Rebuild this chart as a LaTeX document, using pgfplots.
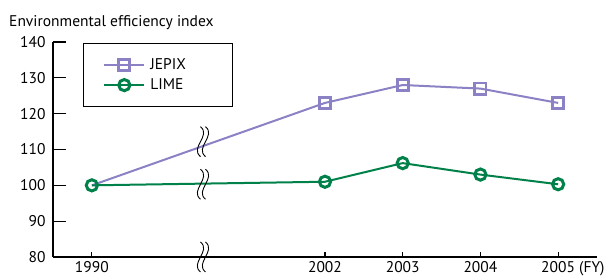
\documentclass[border=0pt]{standalone}
\usepackage{fontspec}
\setmainfont{PT Sans}
\usepackage{pgfplots}
\pgfplotsset{compat=1.18}
\definecolor{jepix}{HTML}{8A82C4}
\definecolor{lime}{HTML}{00814A}
\begin{document}
\begin{tikzpicture}[font=\fontsize{15.5}{18}\selectfont]
\begin{axis}[
  scale only axis, width=544pt, height=215pt,
  xmin=-0.5, xmax=6.5, ymin=80, ymax=140,
  axis lines*=left,
  axis line style={line width=1.3pt, black},
  ytick={80,90,...,140},
  xtick={0,3,4,5,6},
  xticklabels={1990,2002,2003,2004,{2005\rlap{ (FY)}}},
  tick align=inside,
  major tick length=13pt,
  xtick style={/pgfplots/major tick length=5pt},
  tick style={line width=1.2pt, black},
  yticklabel style={xshift=-4pt},
  xticklabel style={yshift=-1pt},
  /pgf/number format/assume math mode=true,
  legend style={at={(rel axis cs:0.055,0.995)}, anchor=north west,
    draw=black, line width=0.8pt, inner xsep=20pt, inner ysep=13pt,
    row sep=4pt, font=\fontsize{15.5}{18}\selectfont,
    /tikz/every odd column/.append style={column sep=3pt}},
  legend cell align=left,
  legend image code/.code={\draw[mark repeat=2,mark phase=2] plot coordinates {(0pt,0pt)(20pt,0pt)(40pt,0pt)};},
  clip=false,
]
\addplot[jepix, line width=2pt, forget plot] coordinates {(0,100)(3,123)};
\addplot[jepix, line width=2pt, mark=square, mark size=5.6pt,
  mark options={fill=white, line width=2.9pt, solid}] coordinates {(3,123)(4,128)(5,127)(6,123)};
\addlegendentry{\makebox[60pt][l]{JEPIX}}
\addplot[lime, line width=2pt, mark=o, mark size=5.6pt,
  mark options={fill=white, line width=3pt, solid}] coordinates {(0,100)(3,101)(4,106.2)(5,103)(6,100.3)};
\addlegendentry{LIME}
\coordinate (b1) at (axis cs:1.43,112.2);
\coordinate (b2) at (axis cs:1.43,100.3);
\coordinate (b3) at (axis cs:1.43,80);
\coordinate (tl) at (rel axis cs:0,1);
\coordinate (ll) at (rel axis cs:0,0);
\end{axis}
\foreach \b in {b1,b2,b3}{
  \foreach \dx in {-2.5pt,2.5pt}{
    \draw[black, line width=0.9pt, shift={(\b)}, xshift=\dx]
      (0pt,15pt) .. controls (11pt,6pt) and (-11pt,-6pt) .. (0pt,-15pt);
  }
}
\node[anchor=base west, inner sep=0pt] at ([xshift=-44pt,yshift=16pt]tl) {Environmental efficiency index};
\pgfresetboundingbox
\path[use as bounding box] ([shift={(-53pt,-19pt)}]ll) rectangle ([shift={(553pt,257pt)}]ll);
\end{tikzpicture}
\end{document}
